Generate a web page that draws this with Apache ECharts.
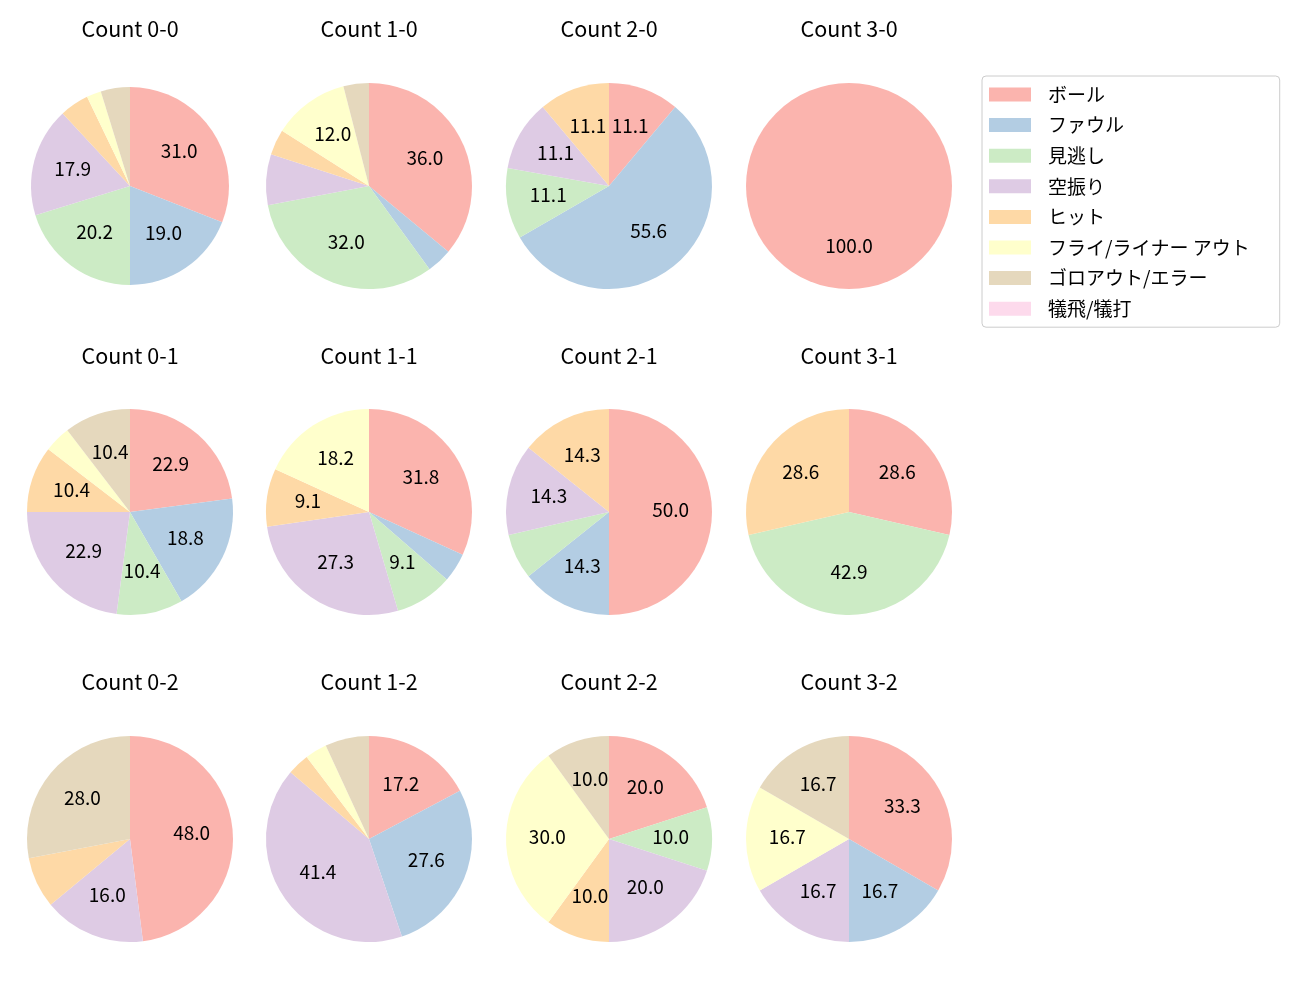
<!DOCTYPE html>
<html>
<head>
<meta charset="utf-8">
<script src="https://cdn.jsdelivr.net/npm/echarts@6/dist/echarts.min.js"></script>
<style>
  html, body { margin: 0; padding: 0; background: #fff; }
  #main { width: 1300px; height: 1000px; }
</style>
</head>
<body>
<div id="main"></div>
<script>
// pitch result categories (legend order)
var categories = ['ボール', 'ファウル', '見逃し', '空振り', 'ヒット', 'フライ/ライナー アウト', 'ゴロアウト/エラー', '犠飛/犠打'];
var colors = ['#fbb4ae', '#b3cde3', '#ccebc5', '#decbe4', '#fed9a6', '#ffffcc', '#e5d8bd', '#fddaec'];

// counts per ball-strike count, in category order
var count_0_0 = [26, 16, 17, 15, 4, 2, 4, 0];
var count_1_0 = [9, 1, 8, 2, 1, 3, 1, 0];
var count_2_0 = [1, 5, 1, 1, 1, 0, 0, 0];
var count_3_0 = [1, 0, 0, 0, 0, 0, 0, 0];
var count_0_1 = [11, 9, 5, 11, 5, 2, 5, 0];
var count_1_1 = [7, 1, 2, 6, 2, 4, 0, 0];
var count_2_1 = [7, 2, 1, 2, 2, 0, 0, 0];
var count_3_1 = [2, 0, 3, 0, 2, 0, 0, 0];
var count_0_2 = [12, 0, 0, 4, 2, 0, 7, 0];
var count_1_2 = [5, 8, 0, 12, 1, 1, 2, 0];
var count_2_2 = [2, 0, 1, 2, 1, 3, 1, 0];
var count_3_2 = [2, 1, 0, 1, 0, 1, 1, 0];

var panelTitles = ['Count 0-0', 'Count 1-0', 'Count 2-0', 'Count 3-0',
                   'Count 0-1', 'Count 1-1', 'Count 2-1', 'Count 3-1',
                   'Count 0-2', 'Count 1-2', 'Count 2-2', 'Count 3-2'];
var panelData = [count_0_0, count_1_0, count_2_0, count_3_0,
                 count_0_1, count_1_1, count_2_1, count_3_1,
                 count_0_2, count_1_2, count_2_2, count_3_2];

var colX = [130, 369, 609, 849];
var rowY = [186, 512, 839];
var titleTop = [18.5, 345.5, 671.5];
var FONT = '"Noto Sans CJK JP", "Noto Sans", sans-serif';

var chart = echarts.init(document.getElementById('main'));

var titles = [];
var pies = [];
var overlays = [];
panelData.forEach(function (vals, i) {
    var cx = colX[i % 4], cy = rowY[Math.floor(i / 4)];
    var r = i === 0 ? 99 : 103;
    var total = vals.reduce(function (a, b) { return a + b; }, 0);
    var items = vals.map(function (v, k) {
        return { name: categories[k], value: v };
    });
    titles.push({
        text: panelTitles[i],
        left: cx,
        top: titleTop[Math.floor(i / 4)],
        textAlign: 'center',
        padding: 0,
        textStyle: { fontFamily: FONT, fontSize: 21.5, fontWeight: 'normal', color: '#000' }
    });
    pies.push({
        type: 'pie',
        center: [cx, cy],
        radius: r,
        startAngle: 90,
        clockwise: true,
        animation: false,
        silent: true,
        label: { show: false },
        labelLine: { show: false },
        itemStyle: { borderWidth: 0 },
        data: items
    });
    // transparent ring so inside labels sit near 0.6 of the radius
    overlays.push({
        type: 'pie',
        center: [cx, cy],
        radius: [r * 0.14, r],
        startAngle: 90,
        clockwise: true,
        animation: false,
        silent: true,
        itemStyle: { color: 'rgba(0,0,0,0)', borderWidth: 0 },
        labelLine: { show: false },
        label: {
            show: true,
            position: 'inside',
            offset: [0, -2],
            fontFamily: FONT,
            fontSize: 19,
            color: '#000',
            formatter: function (p) {
                var pct = p.value / total * 100;
                return pct > 8.5 ? pct.toFixed(1) : '';
            }
        },
        data: items
    });
});

option = {
    backgroundColor: '#fff',
    color: colors,
    animation: false,
    title: titles,
    legend: {
        data: categories,
        orient: 'vertical',
        left: 982,
        top: 76,
        padding: [9, 30, 9, 7],
        itemWidth: 42,
        itemHeight: 14,
        itemGap: 11.6,
        icon: 'rect',
        borderColor: '#cccccc',
        borderWidth: 1,
        borderRadius: 4,
        selectedMode: false,
        textStyle: { fontFamily: FONT, fontSize: 19, color: '#000', padding: [0, 0, 0, 12] }
    },
    series: pies.concat(overlays)
};
chart.setOption(option);
</script>
</body>
</html>
